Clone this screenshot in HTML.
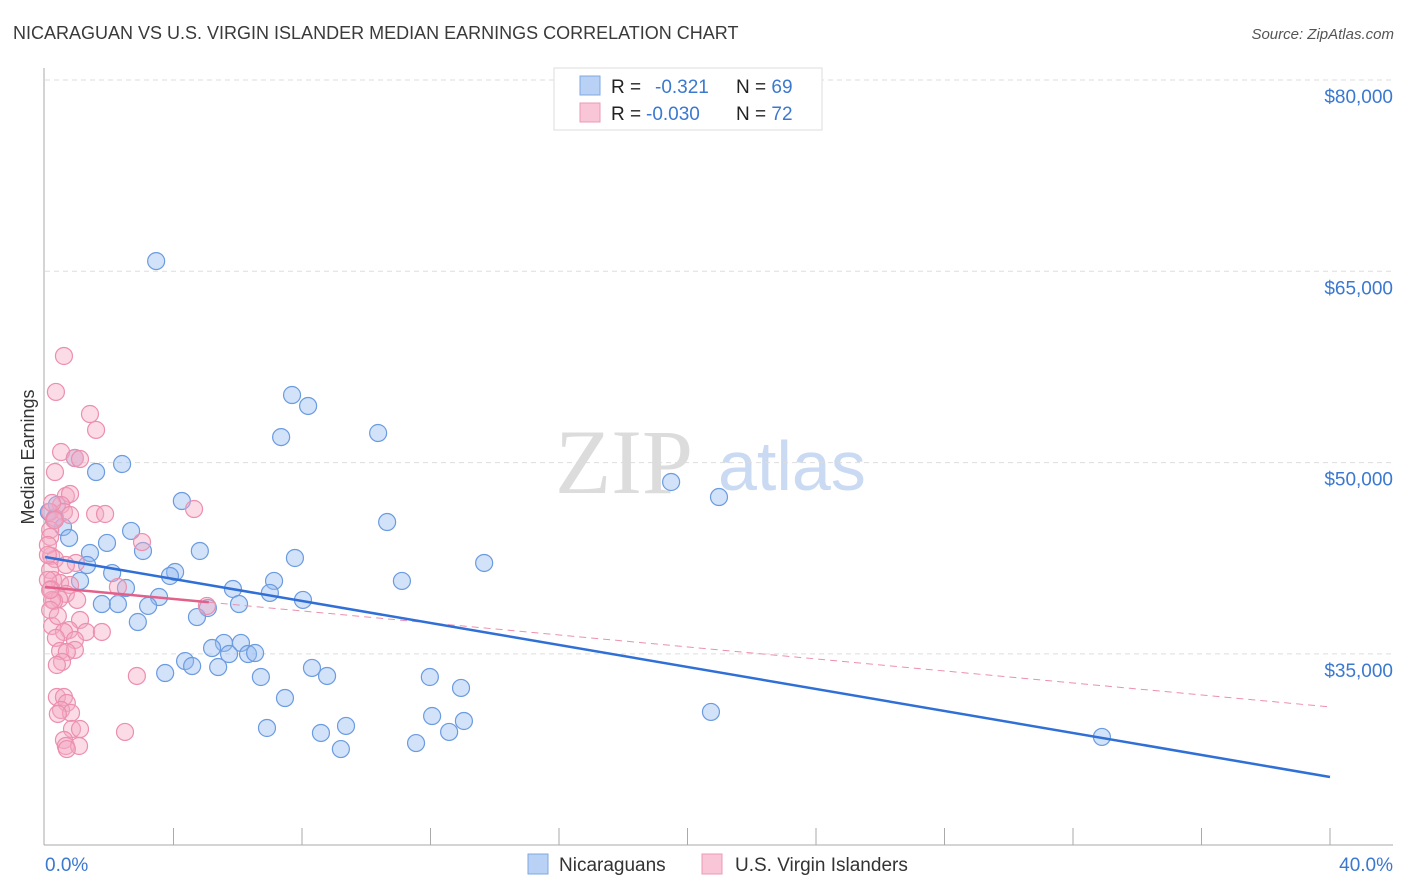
<!DOCTYPE html>
<html><head><meta charset="utf-8"><style>
body{margin:0;background:#fff;}
svg{display:block;font-family:"Liberation Sans",sans-serif;}
</style></head><body>
<svg id="chart" width="1406" height="892">
<text x="13" y="39" font-size="18" fill="#3a3a3a">NICARAGUAN VS U.S. VIRGIN ISLANDER MEDIAN EARNINGS CORRELATION CHART</text>
<text x="1394" y="39" font-size="15" fill="#555" font-style="italic" text-anchor="end">Source: ZipAtlas.com</text>
<text x="555" y="493" font-size="92" fill="#dcdcdc" font-family="Liberation Serif,serif">ZIP</text>
<text x="718" y="490" font-size="70" fill="#c9daf2">atlas</text>
<g id="grid"></g>
<g id="axes"></g>
<g id="marks"></g>
<text transform="translate(34,457) rotate(-90)" font-size="18" fill="#333" text-anchor="middle">Median Earnings</text>
<g>
<rect x="554" y="68" width="268" height="62" fill="#fff" stroke="#ddd"/>
<rect x="580" y="76" width="20" height="19" fill="#b8d1f4" stroke="#7fa8e0"/>
<rect x="580" y="103" width="20" height="19" fill="#f8c6d6" stroke="#eb9ab5"/>
<text x="611" y="93" font-size="19" fill="#222">R = <tspan fill="#3b78d0" x="655">-0.321</tspan><tspan x="736" fill="#222">N = </tspan><tspan fill="#3b78d0">69</tspan></text>
<text x="611" y="120" font-size="19" fill="#222">R = <tspan fill="#3b78d0" x="646">-0.030</tspan><tspan x="736" fill="#222">N = </tspan><tspan fill="#3b78d0">72</tspan></text>
</g>
<g>
<rect x="528" y="854" width="20" height="20" fill="#b8d1f4" stroke="#7fa8e0"/>
<text x="559" y="871" font-size="19" fill="#333">Nicaraguans</text>
<rect x="702" y="854" width="20" height="20" fill="#f8c6d6" stroke="#eb9ab5"/>
<text x="735" y="871" font-size="19" fill="#333">U.S. Virgin Islanders</text>
</g>
</svg>
<script>
const yTicks=[80000,65000,50000,35000];
const yTickLabels=["$80,000","$65,000","$50,000","$35,000"];
const xTickLabels=["0.0%","40.0%"];
const blueX=[3.46,7.69,8.19,7.35,10.37,2.40,1.59,0.93,4.26,19.49,20.98,10.65,13.67,0.37,0.31,0.56,0.75,2.68,1.93,1.40,3.05,4.82,7.78,4.05,3.89,2.09,1.31,1.09,7.13,11.11,2.52,5.85,3.55,7.00,8.03,1.77,2.27,3.21,5.07,6.04,4.73,2.89,5.57,6.10,5.20,5.73,6.32,6.54,4.36,4.58,3.74,5.39,8.31,8.78,6.72,11.98,12.95,7.47,12.05,13.04,6.91,9.37,20.73,8.59,12.58,11.55,9.21,32.90,0.12];
const blueY=[65800,55300,54440,52000,52320,49890,49260,50360,46990,48480,47300,45340,42130,46680,45660,44950,44090,44640,43700,42910,43070,43070,42520,41420,41110,41340,41970,40720,40720,40720,40170,40090,39460,39780,39230,38910,38910,38760,38600,38910,37890,37500,35860,35860,35460,34990,34990,35070,34440,34050,33500,33970,33900,33270,33190,33190,32330,31540,30130,29740,29190,29350,30450,28800,28880,28010,27540,28490,46130];
const pinkX=[0.59,0.34,1.40,1.59,0.50,0.93,1.09,0.31,0.65,0.78,0.50,0.16,0.59,1.56,1.87,4.64,0.28,0.16,3.02,0.19,0.31,0.96,0.16,0.25,0.47,0.78,2.27,0.19,0.65,0.44,0.28,1.00,5.04,1.09,0.22,0.75,1.28,0.59,0.34,0.93,1.77,0.47,0.93,0.68,0.53,0.37,2.86,0.37,0.59,0.68,0.50,0.81,0.40,0.84,1.09,0.59,0.65,1.06,0.68,2.49,0.16,0.09,0.09,0.22,0.16,0.40,0.09,0.16,0.31,0.22,0.78,0.65];
const pinkY=[58360,55540,53810,52560,50830,50360,50280,49260,47380,47540,46680,46130,46130,45970,45970,46360,45500,44720,43770,42680,42440,42130,41580,40800,40560,40400,40250,40090,39700,39300,39150,39230,38760,37660,37190,36870,36720,36720,36250,36090,36720,35230,35310,35150,34370,34130,33270,31620,31620,31150,30600,30370,30290,29110,29110,28250,27780,27780,27540,28880,44170,43540,42760,39230,38440,37970,40800,40010,45500,46830,45890,41970];
const blueTrend=[42600,25350];
const pinkTrend=[40250,30840];
const pinkSolidEnd=5.1;

const X0=45,X1=1330,YTOP=80,PXPER=191.3/15000;
const sx=v=>X0+(v/40)*(X1-X0);
const sy=v=>YTOP+(80000-v)*PXPER;
const NS="http://www.w3.org/2000/svg";
function mk(tag,attrs,parent){const e=document.createElementNS(NS,tag);for(const k in attrs)e.setAttribute(k,attrs[k]);parent.appendChild(e);return e;}
const grid=document.getElementById('grid'),axes=document.getElementById('axes'),marks=document.getElementById('marks');
yTicks.forEach((t,i)=>{
  const l=mk('line',{x1:45,x2:1393,y1:sy(t),y2:sy(t),stroke:'#ddd','stroke-dasharray':'5,4'},grid);
  
  
  const tx=mk('text',{x:1393,y:sy(t)+23,'font-size':19,fill:'#3b78d0','text-anchor':'end'},axes);
  tx.textContent=yTickLabels[i];
  
  
});
const ya=mk('line',{x1:44,x2:44,y1:68,y2:845,stroke:'#aaa'},axes);


const xa=mk('line',{x1:44,x2:1393,y1:845,y2:845,stroke:'#aaa'},axes);


for(let i=1;i<=10;i++){
  const t=mk('line',{x1:sx(i*4),x2:sx(i*4),y1:828,y2:845,stroke:'#aaa'},axes);
  
  
}
const xl0=mk('text',{x:45,y:871,'font-size':19,fill:'#3b78d0'},axes);xl0.textContent=xTickLabels[0];


const xl1=mk('text',{x:1393,y:871,'font-size':19,fill:'#3b78d0','text-anchor':'end'},axes);xl1.textContent=xTickLabels[1];



blueX.forEach((x,i)=>{
  const c=mk('circle',{cx:sx(x),cy:sy(blueY[i]),r:8.5,fill:'rgba(147,187,238,0.42)',stroke:'#6b9be0','stroke-width':1.2},marks);
  
  
});
pinkX.forEach((x,i)=>{
  const c=mk('circle',{cx:sx(x),cy:sy(pinkY[i]),r:8.5,fill:'rgba(244,170,195,0.42)',stroke:'#ec8fae','stroke-width':1.2},marks);
  
  
});
const pAt=x=>pinkTrend[0]+(pinkTrend[1]-pinkTrend[0])*x/40;
const pd=mk('line',{x1:sx(pinkSolidEnd),y1:sy(pAt(pinkSolidEnd)),x2:sx(40),y2:sy(pinkTrend[1]),stroke:'#ec8fae','stroke-width':1,'stroke-dasharray':'7,5'},marks);


const bt=mk('line',{x1:sx(0),y1:sy(blueTrend[0]),x2:sx(40),y2:sy(blueTrend[1]),stroke:'#2f6fd6','stroke-width':2.5},marks);


const ps=mk('line',{x1:sx(0),y1:sy(pinkTrend[0]),x2:sx(pinkSolidEnd),y2:sy(pAt(pinkSolidEnd)),stroke:'#e2618b','stroke-width':2.5},marks);


</script>
</body></html>
